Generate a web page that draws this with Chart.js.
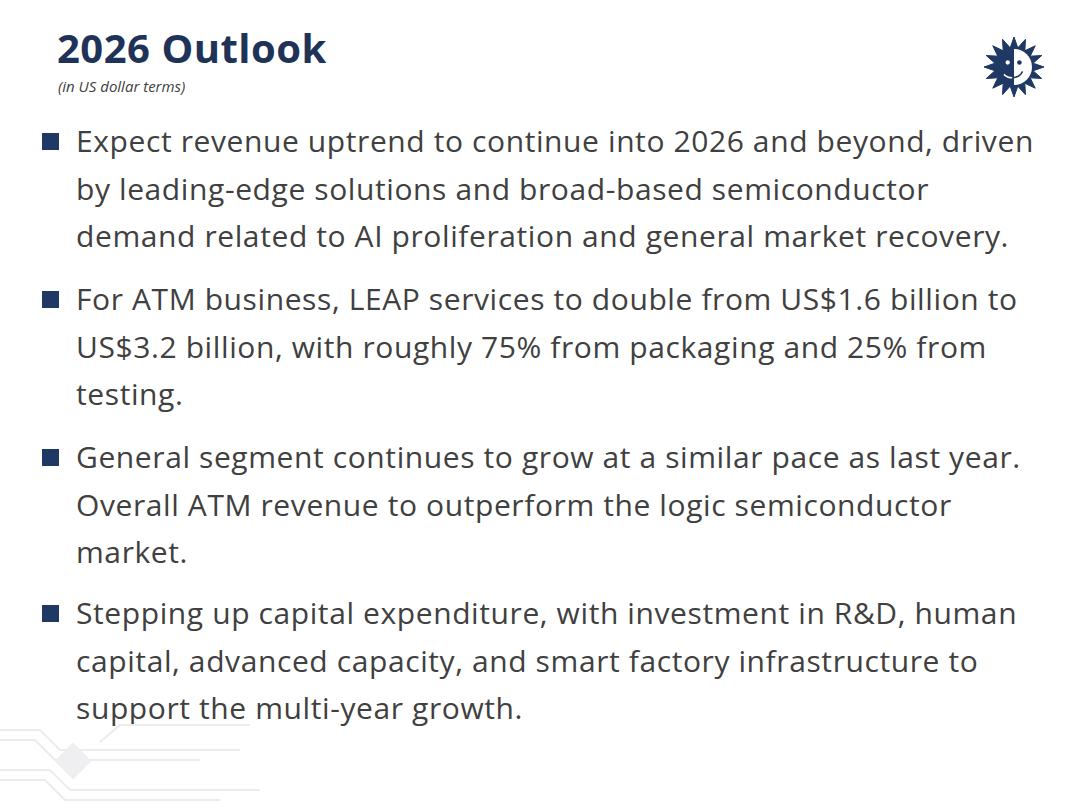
<!DOCTYPE html>
<html>
<head>
<meta charset="utf-8">
<script src="https://cdn.jsdelivr.net/npm/chart.js@4.4.1/dist/chart.umd.min.js"></script>
<style>
  html, body { margin: 0; padding: 0; background: #ffffff; }
  #slide { position: relative; width: 1080px; height: 810px; overflow: hidden; background: #fff; font-family: "Open Sans", sans-serif; }
  #title { position: absolute; left: 57px; top: 22px; font-size: 40px; font-weight: 700; color: #1f3358; line-height: 52px; letter-spacing: 0.5px; }
  #subtitle { position: absolute; left: 58px; top: 76px; font-size: 15px; font-style: italic; color: #404040; }
  .bullet { position: absolute; left: 76px; font-size: 30px; color: #404040; line-height: 47.5px; letter-spacing: 0.6px; }
  .bullet::before { content: ""; position: absolute; left: -34px; top: 16px; width: 17px; height: 17px; background: #1f3864; }
  #logoBox { position: absolute; left: 984px; top: 37px; width: 60px; height: 60px; }
  #deco { position: absolute; left: 0; top: 720px; }
</style>
</head>
<body>
<div id="slide">
  <div id="title">2026 Outlook</div>
  <div id="subtitle">(in US dollar terms)</div>
  <div id="bullets"></div>
  <svg id="deco" width="300" height="90">
    <g stroke="#ececee" stroke-width="2" fill="none">
      <polyline points="0,10 40,10 60,30 240,30"/>
      <polyline points="0,20 35,20 55,40 200,40"/>
      <polyline points="0,50 50,50 70,70 260,70"/>
      <polyline points="0,60 45,60 65,80 220,80"/>
      <polyline points="100,22 120,5 250,5"/>
    </g>
    <rect x="60" y="28" width="26" height="26" fill="#efeff1" transform="rotate(45 73 41)"/>
  </svg>
  <div id="logoBox"><canvas id="logo" width="60" height="60"></canvas></div>
</div>
<script>
var titleText = '2026 Outlook';
var bulletLines = [
  ['Expect revenue uptrend to continue into 2026 and beyond, driven',
   'by leading-edge solutions and broad-based semiconductor',
   'demand related to AI proliferation and general market recovery.'],
  ['For ATM business, LEAP services to double from US$1.6 billion to',
   'US$3.2 billion, with roughly 75% from packaging and 25% from',
   'testing.'],
  ['General segment continues to grow at a similar pace as last year.',
   'Overall ATM revenue to outperform the logic semiconductor',
   'market.'],
  ['Stepping up capital expenditure, with investment in R&D, human',
   'capital, advanced capacity, and smart factory infrastructure to',
   'support the multi-year growth.']
];
var bulletTops = [117, 275, 433, 589];

// sun logo rays, drawn as a radar outline
var rayLabels = ['', '', '', '', '', '', '', '', '', '', '', '', '', '', '', '',
                 '', '', '', '', '', '', '', '', '', '', '', '', '', '', '', ''];
var rayValues = [10, 6.5, 10, 6.5, 10, 6.5, 10, 6.5, 10, 6.5, 10, 6.5, 10, 6.5, 10, 6.5,
                 10, 6.5, 10, 6.5, 10, 6.5, 10, 6.5, 10, 6.5, 10, 6.5, 10, 6.5, 10, 6.5];

var holder = document.getElementById('bullets');
bulletLines.forEach(function (lines, i) {
  var d = document.createElement('div');
  d.className = 'bullet';
  d.style.top = bulletTops[i] + 'px';
  lines.forEach(function (t, j) {
    if (j > 0) d.appendChild(document.createElement('br'));
    d.appendChild(document.createTextNode(t));
  });
  holder.appendChild(d);
});

var ctx = document.getElementById('logo').getContext('2d');
var logoChart = new Chart(ctx, {
  type: 'radar',
  data: {
    labels: rayLabels,
    datasets: [{
      data: rayValues,
      backgroundColor: '#1f3864',
      borderColor: '#1f3864',
      borderWidth: 1,
      pointRadius: 0,
      fill: true
    }]
  },
  options: {
    responsive: false,
    animation: false,
    plugins: { legend: { display: false }, tooltip: { enabled: false } },
    scales: {
      r: {
        min: 0, max: 10,
        ticks: { display: false },
        grid: { display: false },
        angleLines: { display: false },
        pointLabels: { display: false }
      }
    },
    layout: { padding: 0 }
  },
  plugins: [{
    id: 'face',
    afterDatasetsDraw: function (chart) {
      var r = chart.scales.r;
      var c = chart.ctx;
      var cx = r.xCenter, cy = r.yCenter, rad = r.drawingArea * 0.6;
      c.save();
      c.fillStyle = '#ffffff';
      c.beginPath();
      c.arc(cx, cy, rad, -Math.PI / 2, Math.PI / 2);
      c.closePath();
      c.fill();
      c.fillStyle = '#1f3864';
      c.beginPath();
      c.arc(cx + rad * 0.3, cy - rad * 0.25, rad * 0.13, 0, Math.PI * 2);
      c.fill();
      c.strokeStyle = '#1f3864';
      c.lineWidth = 1.5;
      c.beginPath();
      c.arc(cx - rad * 0.1, cy - rad * 0.05, rad * 0.65, 0.15 * Math.PI, 0.5 * Math.PI);
      c.stroke();
      c.strokeStyle = '#ffffff';
      c.beginPath();
      c.arc(cx - rad * 0.1, cy - rad * 0.05, rad * 0.65, 0.5 * Math.PI, 0.75 * Math.PI);
      c.stroke();
      c.fillStyle = '#ffffff';
      c.beginPath();
      c.arc(cx - rad * 0.35, cy - rad * 0.25, rad * 0.12, 0, Math.PI * 2);
      c.fill();
      c.restore();
    }
  }]
});
</script>
</body>
</html>
